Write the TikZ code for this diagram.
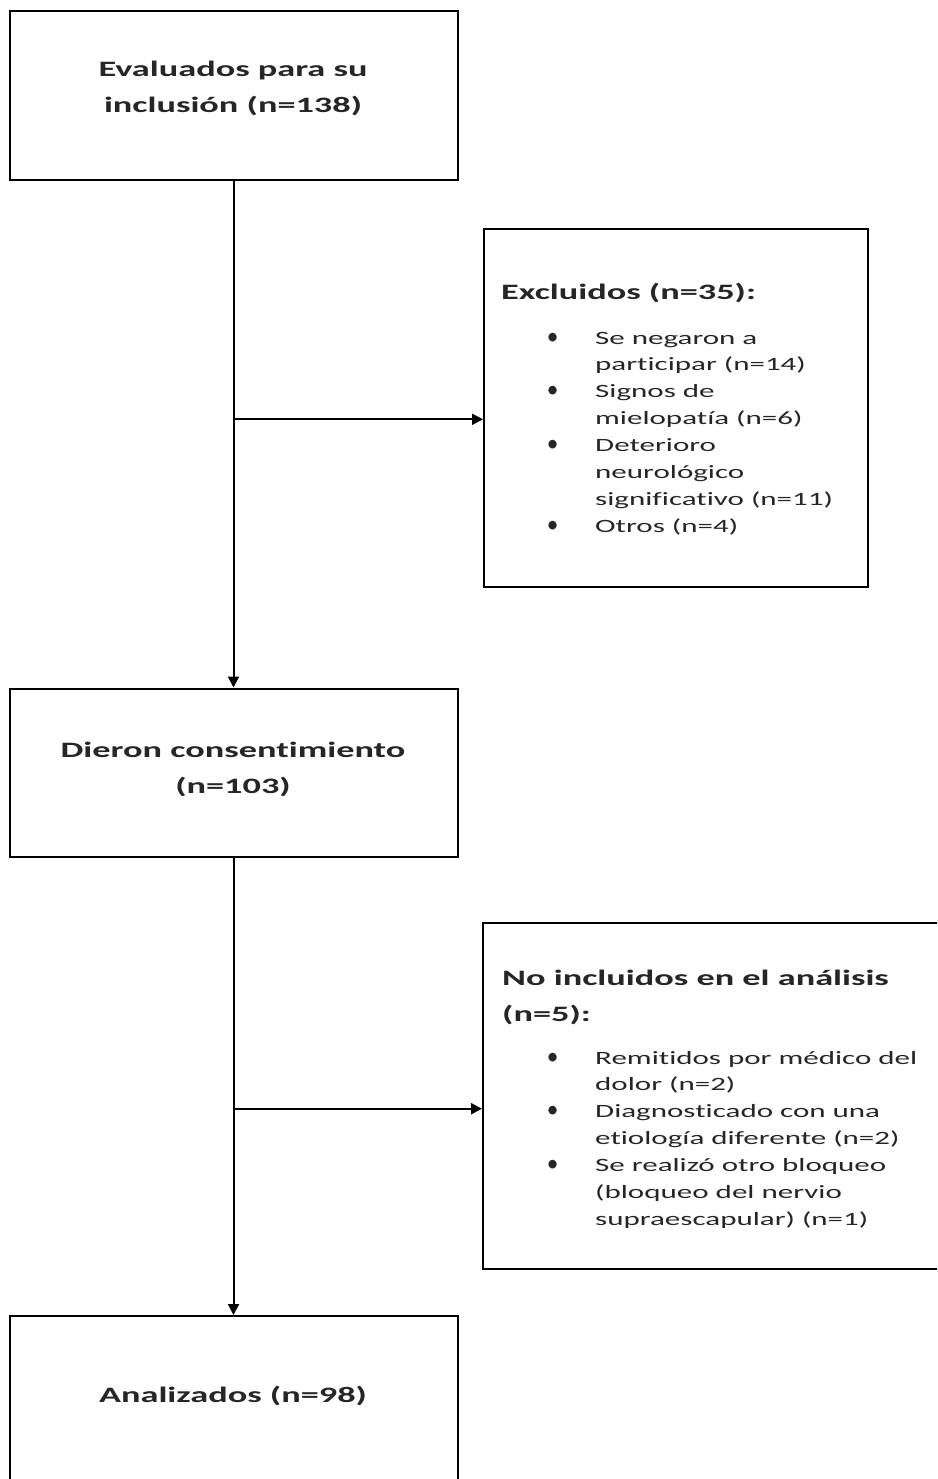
\documentclass[tikz,border=0pt]{standalone}
\usepackage{fontspec}
\usepackage{graphicx}
\setmainfont[FakeStretch=1.65,Ligatures=NoCommon]{Carlito}
\usetikzlibrary{arrows.meta}
\newcommand{\titlefont}{\fontsize{22}{36}\selectfont\bfseries}
\newcommand{\listfont}{\fontsize{18.8}{26.9}\selectfont}
\newcommand{\blt}{\makebox[15pt][c]{\scalebox{0.75}[1.3]{\textbullet}}}
\begin{document}
\begin{tikzpicture}[x=1pt,y=-1pt,
  box/.style={draw=black, line width=2pt, fill=white, inner sep=0pt},
  conn/.style={draw=black, line width=2pt},
  arr/.style={conn, -{Triangle[length=11pt,width=11pt]}},
  ttl/.style={inner sep=0pt, anchor=base, font=\titlefont, text=black!85},
  hd/.style={inner sep=0pt, anchor=base west, font=\titlefont, text=black!85},
  lst/.style={inner sep=0pt, anchor=base west, font=\listfont, text=black!85}]
\useasboundingbox (0,0) rectangle (937,1479);
\clip (0,0) rectangle (937,1479);
\fill[white] (0,0) rectangle (937,1479);

% boxes
\node[box, minimum width=448pt, minimum height=169pt] (b1) at (233.5,95.5) {};
\node[box, minimum width=384pt, minimum height=358pt] (ex) at (676,408) {};
\node[box, minimum width=448pt, minimum height=168pt] (b3) at (233.5,772.5) {};
\node[box, minimum width=480pt, minimum height=346pt] (ni) at (723,1096) {};
\node[box, minimum width=448pt, minimum height=200pt] (b5) at (233.5,1416) {};

% texts
\node[ttl] (t1) at (233,77) {\begin{tabular}[t]{@{}c@{}}Evaluados para su\\inclusión (n=138)\end{tabular}};
\node[ttl] (t3) at (233,757) {\begin{tabular}[t]{@{}c@{}}Dieron consentimiento\\(n=103)\end{tabular}};
\node[ttl] (t5) at (233,1402) {Analizados (n=98)};

\node[hd] (exh) at (501,299) {Excluidos (n=35):};
\node[lst] (exl) at (545,344) {\begin{tabular}[t]{@{}p{50pt}@{}l@{}}
\blt & Se negaron a\\
 & participar (n=14)\\
\blt & Signos de\\
 & mielopatía (n=6)\\
\blt & Deterioro\\
 & neurológico\\
 & significativo (n=11)\\
\blt & Otros (n=4)
\end{tabular}};

\node[hd] (nih) at (502,985) {\begin{tabular}[t]{@{}l@{}}No incluidos en el análisis\\(n=5):\end{tabular}};
\node[lst] (nil) at (545,1064) {\begin{tabular}[t]{@{}p{50pt}@{}l@{}}
\blt & Remitidos por médico del\\
 & dolor (n=2)\\
\blt & Diagnosticado con una\\
 & etiología diferente (n=2)\\
\blt & Se realizó otro bloqueo\\
 & (bloqueo del nervio\\
 & supraescapular) (n=1)
\end{tabular}};

% connectors
\coordinate (j1) at (233.3,419.3);
\coordinate (j2) at (233.3,1108.7);
\draw[arr] (b1.south) -- (b3.north);
\draw[arr] (j1) -- (j1 -| ex.west);
\draw[arr] (b3.south) -- (b5.north);
\draw[arr] (j2) -- (j2 -| ni.west);
\end{tikzpicture}
\end{document}
